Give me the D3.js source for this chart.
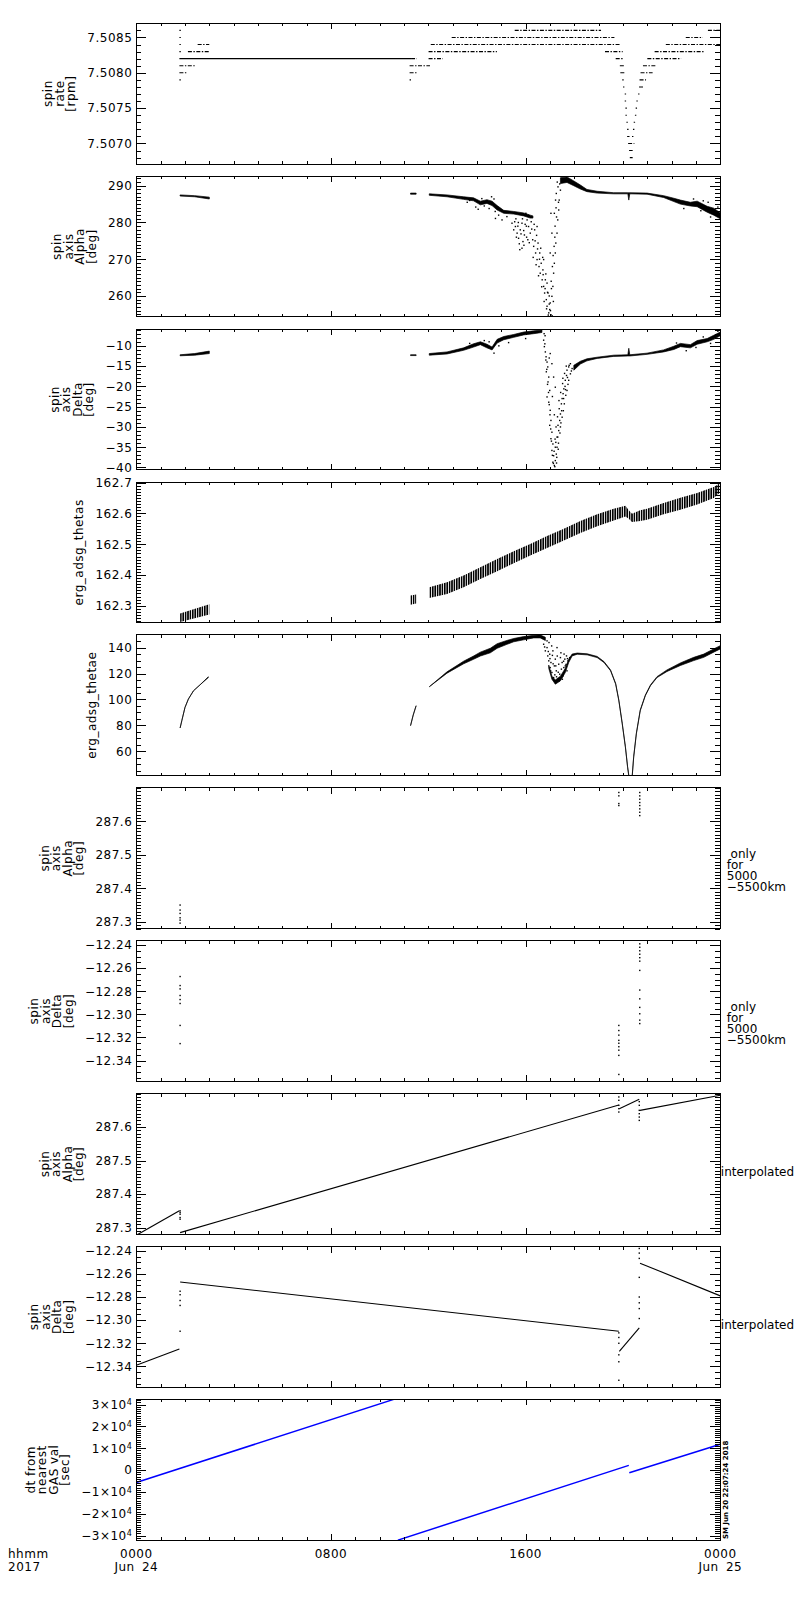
<!DOCTYPE html>
<html>
<head>
<meta charset="utf-8">
<script src="https://cdn.jsdelivr.net/npm/d3@7"></script>
<style>
  body { margin: 0; background: #fff; }
  text { font-family: "DejaVu Sans", sans-serif; fill: #000; }
</style>
</head>
<body>
<svg id="chart" width="800" height="1600"></svg>
<script>
// ---- axis texts and ranges ----
const panelTitles = [
  ["spin", "rate", "[rpm]"],
  ["spin", "axis", "Alpha", "[deg]"],
  ["spin", "axis", "Delta", "[deg]"],
  ["erg_adsg_thetas"],
  ["erg_adsg_thetae"],
  ["spin", "axis", "Alpha", "[deg]"],
  ["spin", "axis", "Delta", "[deg]"],
  ["spin", "axis", "Alpha", "[deg]"],
  ["spin", "axis", "Delta", "[deg]"],
  ["dt from", "nearest", "GAS val", "[sec]"]
];
const panelNotes = [[], [], [], [], [],
  [" only", "for", "5000", "−5500km"],
  [" only", "for", "5000", "−5500km"],
  ["interpolated"], ["interpolated"], []];
const yDomains = [
  [7.50671, 7.50870], [254.3, 292.6], [-40.57, -5.87], [162.245, 162.702], [41.3, 149.8],
  [287.28, 287.70], [-12.358, -12.2363], [287.28, 287.70], [-12.358, -12.2363], [-32100, 32400]
];
const yMajor = [
  [7.5070, 7.5075, 7.5080, 7.5085],
  [260, 270, 280, 290],
  [-40, -35, -30, -25, -20, -15, -10],
  [162.3, 162.4, 162.5, 162.6, 162.7],
  [60, 80, 100, 120, 140],
  [287.3, 287.4, 287.5, 287.6],
  [-12.34, -12.32, -12.30, -12.28, -12.26, -12.24],
  [287.3, 287.4, 287.5, 287.6],
  [-12.34, -12.32, -12.30, -12.28, -12.26, -12.24],
  [-30000, -20000, -10000, 0, 10000, 20000, 30000]
];
const yMinorStep = [0.0001, 1, 1, 0.01, 5, 0.01, 0.005, 0.01, 0.005, 1000];
const xLabelHours = [0, 8, 16, 24];
const xTimeLabels = ["0000", "0800", "1600", "0000"];
const xDateLabels = ["Jun 24", "", "", "Jun 25"];
const stamp = "SM Jun 20 22:07:24 2018";

// ---- panel 1: spin rate levels [value, startHour, endHour] ----
const rateLevels = [
  [7.5086, 1.8, 1.8], [7.5086, 15.58, 19.07], [7.5086, 23.52, 24.0],
  [7.5085, 1.8, 1.8], [7.5085, 12.99, 19.62], [7.5085, 22.61, 23.25],
  [7.5084, 1.8, 1.8], [7.5084, 2.55, 2.97], [7.5084, 12.13, 19.83], [7.5084, 21.79, 24.0],
  [7.5083, 1.8, 1.8], [7.5083, 2.15, 3.01], [7.5083, 12.04, 14.79], [7.5083, 19.29, 19.96], [7.5083, 21.33, 23.29],
  [7.5082, 1.8, 11.26], [7.5082, 11.32, 11.50], [7.5082, 12.04, 12.57], [7.5082, 19.73, 19.96], [7.5082, 21.03, 22.36],
  [7.5081, 1.8, 2.4], [7.5081, 11.26, 12.04], [7.5081, 19.90, 20.03], [7.5081, 20.85, 21.33],
  [7.5080, 1.8, 2.03], [7.5080, 11.26, 11.54], [7.5080, 19.92, 20.06], [7.5080, 20.75, 21.19],
  [7.5079, 1.8, 1.8], [7.5079, 11.26, 11.26], [7.5079, 20.0, 20.0], [7.5079, 20.71, 20.92],
  [7.5078, 20.03, 20.03], [7.5078, 20.69, 20.80],
  [7.5077, 20.10, 20.10], [7.5077, 20.65, 20.65],
  [7.5076, 20.10, 20.10], [7.5076, 20.58, 20.58],
  [7.5075, 20.13, 20.13], [7.5075, 20.55, 20.55],
  [7.5074, 20.13, 20.13], [7.5074, 20.52, 20.52],
  [7.5073, 20.17, 20.17], [7.5073, 20.47, 20.47],
  [7.5072, 20.20, 20.20], [7.5072, 20.44, 20.44],
  [7.5071, 20.20, 20.24], [7.5071, 20.40, 20.40],
  [7.5070, 20.24, 20.44],
  [7.5069, 20.28, 20.37],
  [7.5068, 20.31, 20.37]
];

// ---- panel 2: spin axis alpha, bands [hour, low, high] and scattered points ----
const alphaBand = [
  [[1.8, 287.2, 287.5], [2.4, 287.0, 287.3], [3.0, 286.4, 286.9]],
  [[11.27, 287.7, 288.0], [11.5, 287.7, 288.0]],
  [[12.04, 287.4, 287.8], [12.77, 287.0, 287.5], [13.45, 286.3, 287.0], [13.86, 285.9, 286.7], [14.14, 284.8, 285.8],
   [14.41, 285.2, 286.2], [14.62, 284.6, 285.8], [14.83, 283.4, 284.6], [15.10, 282.5, 283.3], [15.51, 282.3, 283.0],
   [15.92, 281.8, 282.6], [16.19, 281.2, 282.0], [16.30, 281.2, 281.8]],
  [[17.43, 290.6, 292.2], [17.70, 290.9, 292.4], [17.98, 290.0, 291.3], [18.25, 289.1, 290.2], [18.52, 288.4, 289.0],
   [18.94, 288.0, 288.5], [19.62, 287.8, 288.1], [20.20, 287.8, 288.1], [20.24, 286.1, 288.1], [20.28, 287.8, 288.1],
   [20.99, 287.7, 288.0], [21.67, 286.8, 287.3], [22.09, 285.7, 286.6], [22.36, 285.0, 286.1], [22.77, 284.5, 285.5],
   [23.05, 284.3, 285.8], [23.46, 282.8, 284.4], [23.73, 282.0, 283.9], [24.0, 281.0, 282.6]]
];
const alphaCloud = [
  [13.60, 285.5], [13.70, 286.0], [13.95, 284.2], [14.05, 283.6], [14.20, 286.5], [14.30, 284.5], [14.50, 283.8],
  [14.60, 287.0], [14.70, 286.4], [14.75, 283.0], [22.50, 283.8], [22.90, 286.4], [23.20, 283.2], [23.30, 285.9],
  [23.50, 285.5], [23.60, 281.5], [23.90, 284.2],
  [14.76, 281.1], [14.89, 282.0], [15.03, 280.7], [15.23, 281.6], [15.44, 279.8], [15.51, 278.0], [15.58, 278.9],
  [15.65, 277.1], [15.71, 275.7], [15.78, 278.0], [15.85, 273.0], [15.89, 274.8], [15.95, 276.6], [16.01, 282.5],
  [16.06, 280.7], [16.12, 278.9], [16.19, 277.1], [16.23, 280.2], [16.29, 275.3], [16.33, 273.5], [16.37, 278.0],
  [16.41, 271.7], [16.47, 269.9], [16.51, 274.4], [16.55, 268.0], [16.58, 271.7], [16.60, 266.2], [16.64, 268.9],
  [16.68, 264.4], [16.71, 267.1], [16.74, 262.6], [16.78, 260.8], [16.81, 264.4], [16.85, 259.0], [16.88, 257.2],
  [16.92, 260.8], [16.95, 255.4], [16.99, 256.3], [17.01, 258.1], [17.04, 254.9], [17.08, 259.9], [17.12, 262.6],
  [17.15, 266.2], [17.18, 268.9], [17.22, 271.7], [17.24, 274.4], [17.29, 277.1], [17.32, 280.7], [17.36, 283.4],
  [17.38, 286.1], [17.43, 288.8], [17.18, 282.5], [17.23, 286.1], [17.08, 277.1], [17.01, 271.7], [17.10, 268.0],
  [17.26, 287.9], [17.33, 289.7], [17.04, 282.5], [16.74, 269.9], [16.88, 263.5], [16.47, 278.9], [16.09, 275.3],
  [15.76, 272.6], [15.85, 279.8], [16.20, 281.5], [16.35, 279.5], [16.45, 276.5], [16.62, 273.0], [16.70, 270.5],
  [16.83, 266.0], [16.90, 261.0], [16.97, 257.8], [17.06, 262.0], [17.13, 271.0], [17.20, 276.0], [17.27, 281.5],
  [15.60, 281.0], [15.70, 280.0], [15.92, 277.8], [16.03, 279.0],
  [15.55, 280.2], [15.62, 276.0], [15.68, 279.0], [15.74, 274.2], [15.81, 276.9], [15.87, 281.0], [15.93, 273.8],
  [15.98, 279.5], [16.04, 276.0], [16.10, 282.0], [16.15, 274.5], [16.25, 278.2], [16.31, 270.5], [16.39, 275.0],
  [16.43, 268.5], [16.49, 272.8], [16.53, 265.5], [16.57, 270.0], [16.66, 262.5], [16.72, 265.8], [16.76, 258.5],
  [16.80, 262.0], [16.86, 256.5], [16.93, 254.8], [16.97, 260.0], [17.02, 256.0], [17.05, 264.0], [17.09, 254.6],
  [17.14, 258.5], [17.17, 273.5], [17.21, 279.0], [17.25, 284.0], [17.30, 291.0], [17.35, 285.5], [17.40, 290.5]
];

// ---- panel 3: spin axis delta ----
const deltaBand = [
  [[1.8, -12.45, -12.2], [2.4, -12.3, -11.9], [3.0, -11.9, -11.3]],
  [[11.27, -12.4, -12.2], [11.5, -12.4, -12.2]],
  [[12.04, -12.3, -11.9], [12.77, -12.0, -11.5], [13.45, -11.1, -10.5], [13.86, -10.3, -9.5], [14.14, -9.7, -9.0],
   [14.41, -10.5, -9.6], [14.62, -11.0, -10.3], [14.83, -9.3, -8.4], [15.10, -8.5, -7.7], [15.51, -7.9, -7.2],
   [15.92, -7.3, -6.6], [16.33, -7.0, -6.3], [16.67, -6.7, -6.1]],
  [[17.98, -16.0, -14.8], [18.25, -14.5, -13.8], [18.52, -13.7, -13.2], [18.94, -13.1, -12.8], [19.62, -12.6, -12.3],
   [20.20, -12.5, -12.2], [20.24, -12.5, -10.6], [20.28, -12.5, -12.2], [20.99, -12.1, -11.8], [21.67, -11.5, -11.0],
   [22.09, -10.9, -10.1], [22.36, -10.2, -9.4], [22.77, -10.5, -9.7], [23.05, -9.6, -8.7], [23.46, -9.0, -8.2],
   [23.73, -8.4, -7.4], [24.0, -7.5, -6.6]]
];
const deltaCloud = [
  [13.70, -9.4], [14.30, -8.7], [14.50, -9.0], [14.70, -11.8], [14.90, -10.0], [15.30, -9.2], [16.00, -8.2],
  [16.20, -5.9], [22.20, -9.3], [22.60, -11.2], [23.00, -10.4], [23.30, -7.8], [23.60, -9.4], [23.90, -6.4],
  [16.74, -8.6], [16.77, -10.2], [16.81, -11.5], [16.84, -12.7], [16.88, -14.0], [16.91, -15.2], [16.85, -16.4],
  [16.95, -17.7], [16.92, -18.9], [16.99, -21.0], [16.88, -22.6], [16.95, -23.9], [17.01, -25.9], [17.04, -28.4],
  [16.99, -29.6], [17.08, -31.3], [17.04, -32.9], [17.12, -34.2], [17.08, -35.8], [17.15, -37.1], [17.12, -38.7],
  [17.18, -39.5], [17.22, -38.3], [17.26, -36.7], [17.29, -35.0], [17.24, -33.8], [17.32, -32.5], [17.36, -30.9],
  [17.33, -29.6], [17.40, -28.4], [17.43, -26.8], [17.38, -25.5], [17.47, -24.3], [17.50, -23.0], [17.54, -21.8],
  [17.57, -20.6], [17.52, -19.3], [17.63, -18.5], [17.68, -17.3], [17.70, -16.0], [17.77, -15.2], [17.84, -14.4],
  [17.59, -24.3], [17.65, -22.2], [17.70, -21.0], [17.50, -27.6], [17.43, -30.0], [17.29, -32.5], [17.22, -35.0],
  [17.08, -14.4], [17.15, -17.7], [17.22, -20.2], [17.01, -11.9], [17.77, -18.5], [17.84, -16.9], [17.91, -15.6],
  [17.20, -39.8], [17.27, -38.9], [17.35, -34.0], [17.45, -29.0], [17.55, -26.0], [17.62, -20.0], [17.74, -19.5],
  [16.80, -7.5], [16.97, -13.0], [17.10, -22.5], [17.18, -27.0],
  [16.76, -7.0], [16.79, -9.5], [16.83, -13.5], [16.87, -15.8], [16.90, -19.5], [16.94, -21.5], [16.97, -24.5],
  [17.00, -27.0], [17.03, -30.5], [17.06, -33.5], [17.10, -37.0], [17.14, -39.0], [17.17, -36.0], [17.21, -33.0],
  [17.25, -30.0], [17.28, -37.5], [17.31, -27.5], [17.34, -35.5], [17.37, -23.5], [17.41, -31.5], [17.44, -21.5],
  [17.48, -26.0], [17.53, -18.0], [17.56, -23.0], [17.60, -16.8], [17.64, -20.8], [17.67, -15.0], [17.72, -17.8],
  [17.79, -14.8], [17.88, -16.2]
];

// ---- panel 4: erg_adsg_thetas bands ----
const thetasBand = [
  [[1.8, 162.247, 162.275], [3.0, 162.272, 162.305]],
  [[11.27, 162.303, 162.333], [11.5, 162.307, 162.337]],
  [[12.04, 162.325, 162.360], [12.77, 162.338, 162.376], [13.45, 162.360, 162.398], [14.14, 162.387, 162.425],
   [14.83, 162.412, 162.452], [15.51, 162.438, 162.477], [16.19, 162.463, 162.501], [16.88, 162.488, 162.527],
   [17.57, 162.512, 162.550], [18.25, 162.536, 162.575], [18.94, 162.558, 162.597], [19.62, 162.577, 162.615],
   [20.10, 162.590, 162.625], [20.24, 162.583, 162.610], [20.37, 162.572, 162.599], [20.71, 162.575, 162.610],
   [20.99, 162.579, 162.615], [21.67, 162.597, 162.634], [22.36, 162.612, 162.651], [23.05, 162.629, 162.666],
   [23.73, 162.650, 162.686], [24.0, 162.669, 162.699]]
];

// ---- panel 5: erg_adsg_thetae ----
const thetaeBand = [
  [[1.8, 78, 78], [1.87, 83.6, 83.6], [2.0, 93.8, 93.8], [2.14, 100.3, 100.3], [2.35, 106.7, 106.7],
   [2.62, 111.3, 111.3], [2.96, 116.9, 117.5]],
  [[11.27, 79.8, 79.8], [11.38, 88, 88], [11.5, 95.2, 95.2]],
  [[12.04, 109.8, 109.8], [12.77, 120.3, 121.3], [13.45, 127.5, 129.5], [13.86, 131, 133.5], [14.14, 133.5, 136.5],
   [14.55, 136, 139.5], [14.83, 139.5, 143], [15.23, 142.5, 145.5], [15.51, 144.5, 147], [15.92, 146, 148.5],
   [16.33, 147.5, 149.5], [16.60, 147.5, 149.8], [16.81, 145.5, 148]],
  [[16.95, 124, 126.5], [17.08, 115.6, 118], [17.22, 111.8, 115], [17.43, 114.4, 118], [17.63, 120.8, 124],
   [17.77, 128.5, 131], [17.91, 133.6, 135], [18.12, 134.9, 135.8], [18.53, 134.4, 135.2], [18.94, 132.3, 133.2],
   [19.22, 128.5, 129.2], [19.49, 122.1, 122.8], [19.70, 111.8, 112.4], [19.83, 99, 99.6], [19.97, 81.1, 81.7],
   [20.10, 63.1, 63.7], [20.19, 47.7, 48.3], [20.26, 38, 39], [20.37, 38, 39], [20.44, 55.4, 56],
   [20.55, 73.4, 74], [20.71, 91.3, 91.9], [20.92, 102.9, 103.5], [21.13, 110.6, 111.2], [21.40, 116.9, 117.6],
   [21.81, 121.6, 122.8], [22.36, 126.2, 128.2], [22.91, 130, 132.5], [23.32, 132.5, 135], [23.73, 136.5, 139],
   [24.0, 139, 141.5]]
];
const thetaeCloud = [
  [16.74, 142.6], [16.81, 137.5], [16.88, 140], [16.91, 133.6], [16.95, 129.8], [16.99, 134.9], [17.01, 124.6],
  [17.04, 128.5], [17.08, 120.8], [17.12, 137.5], [17.15, 116.9], [17.18, 125.9], [17.22, 131.1], [17.26, 122.1],
  [17.29, 140], [17.32, 115.6], [17.36, 127.2], [17.40, 119.5], [17.43, 132.3], [17.47, 123.4], [17.50, 128.5],
  [17.54, 118.2], [17.57, 124.6], [17.61, 131.1], [17.63, 125.9], [17.68, 133.6], [17.70, 122.1], [17.74, 129.8],
  [17.81, 132.3], [16.88, 145.2], [16.96, 143.9], [17.07, 141.3], [17.24, 125.9], [17.38, 114.4], [17.51, 115.6],
  [17.00, 131.5], [17.10, 134.0], [17.20, 119.0], [17.30, 133.5], [17.45, 136.0], [17.58, 135.0],
  [16.78, 140.5], [16.93, 137.0], [17.03, 122.0], [17.13, 127.5], [17.27, 117.5], [17.34, 121.0], [17.48, 117.0],
  [17.56, 129.5], [17.66, 127.0], [17.72, 131.5]
];

// ---- panels 6, 7: only for 5000-5500km ----
const alphaOnly = [
  [1.8, 287.35], [1.8, 287.335], [1.8, 287.325], [1.8, 287.312], [1.8, 287.305], [1.8, 287.296],
  [19.83, 287.686], [19.83, 287.676], [19.83, 287.653], [19.83, 287.647],
  [20.69, 287.686], [20.69, 287.676], [20.69, 287.666], [20.69, 287.656], [20.69, 287.647], [20.69, 287.637],
  [20.69, 287.627], [20.69, 287.617]
];
const deltaOnly = [
  [1.8, -12.2673], [1.8, -12.2751], [1.8, -12.278], [1.8, -12.2837], [1.8, -12.2872], [1.8, -12.2906],
  [1.8, -12.3096], [1.8, -12.3253],
  [20.69, -12.239], [20.69, -12.242], [20.69, -12.245], [20.69, -12.248], [20.69, -12.251], [20.69, -12.254],
  [20.69, -12.262], [20.69, -12.279], [20.69, -12.2866], [20.69, -12.294], [20.69, -12.2995], [20.69, -12.305],
  [20.69, -12.308],
  [19.83, -12.3096], [19.83, -12.314], [19.83, -12.318], [19.83, -12.3225], [19.83, -12.325], [19.83, -12.328],
  [19.83, -12.331], [19.83, -12.3355], [19.83, -12.352]
];

// ---- panels 8, 9: interpolated ----
const alphaInterpLines = [
  [[0, 287.277], [1.77, 287.35]],
  [[1.8, 287.285], [19.83, 287.666]],
  [[19.85, 287.655], [20.67, 287.683]],
  [[20.7, 287.65], [24, 287.695]]
];
const alphaInterpDots = [
  [1.8, 287.35], [1.8, 287.345], [1.8, 287.34], [1.8, 287.33], [1.8, 287.325],
  [19.83, 287.69], [19.83, 287.68], [19.83, 287.665], [19.83, 287.655], [19.83, 287.645],
  [20.67, 287.676], [20.67, 287.665], [20.67, 287.65], [20.67, 287.64], [20.67, 287.63], [20.67, 287.62]
];
const deltaInterpLines = [
  [[0, -12.339], [1.77, -12.325]],
  [[1.8, -12.267], [19.83, -12.3096]],
  [[19.85, -12.327], [20.67, -12.3067]],
  [[20.7, -12.2507], [24, -12.279]]
];
const deltaInterpDots = [
  [1.8, -12.275], [1.8, -12.278], [1.8, -12.283], [1.8, -12.2873], [1.8, -12.3096],
  [19.83, -12.311], [19.83, -12.315], [19.83, -12.32], [19.83, -12.33], [19.83, -12.336], [19.83, -12.352],
  [20.67, -12.238], [20.67, -12.242], [20.67, -12.2466], [20.67, -12.263], [20.67, -12.28], [20.67, -12.285],
  [20.67, -12.29], [20.67, -12.2986]
];

// ---- panel 10: dt from nearest GAS value [sec] ----
const dtLines = [
  [[0, -5700], [10.58, 32400]],
  [[10.75, -32100], [20.24, 2170]],
  [[20.26, -1200], [24, 11840]]
];

// ================= drawing =================
const svg = d3.select("#chart");
svg.append("rect").attr("width", 800).attr("height", 1600).attr("fill", "#fff");

// vertical hatch that imitates the saw-tooth texture of the thetas band
const pat = svg.append("defs").append("pattern").attr("id", "teeth")
  .attr("patternUnits", "userSpaceOnUse").attr("width", 2.4).attr("height", 10);
pat.append("rect").attr("width", 1.6).attr("height", 10).attr("fill", "#000");

const plotLeft = 136.3, plotRight = 720.3, firstTop = 23.3, pitch = 152.9, plotH = 140.7;
const x = d3.scaleLinear().domain([0, 24]).range([plotLeft, plotRight]);
const hourTicks = d3.range(0, 25);

function minorTicks([lo, hi], step) {
  const out = [];
  for (let k = Math.ceil(lo / step - 1e-9); k * step <= hi + 1e-9; k++) out.push(+(k * step).toPrecision(12));
  return out;
}

function drawBands(layer, y, segments, fill) {
  const area = d3.area().x(d => x(d[0])).y0(d => y(d[1])).y1(d => y(d[2]));
  layer.selectAll(null).data(segments).join("path")
    .attr("d", area).attr("fill", fill || "#000")
    .attr("stroke", fill ? "none" : "#000")
    .attr("stroke-width", 0.7).attr("stroke-linejoin", "round");
}
function drawDots(layer, y, pts) {
  layer.selectAll(null).data(pts).join("rect")
    .attr("x", d => x(d[0]) - 0.7).attr("y", d => y(d[1]) - 0.7)
    .attr("width", 1.4).attr("height", 1.4).attr("fill", "#000");
}
function drawLines(layer, y, lines, color, w) {
  const line = d3.line().x(d => x(d[0])).y(d => y(d[1]));
  layer.selectAll(null).data(lines).join("path")
    .attr("d", line).attr("fill", "none").attr("stroke", color).attr("stroke-width", w);
}
function drawLevels(layer, y, levels) {
  // the one level held across the data gap is drawn solid, the sampled ones dotted
  layer.selectAll(null).data(levels).join("line")
    .attr("x1", d => x(d[1]) - 0.7)
    .attr("x2", d => x(d[2]) + 0.7)
    .attr("y1", d => y(d[0])).attr("y2", d => y(d[0]))
    .attr("stroke", "#000").attr("stroke-width", 1.1)
    .attr("stroke-dasharray", d => (d[2] - d[1] > 8 ? null : "4 1.5 1.4 1.5"));
}

const drawers = [
  (l, y) => drawLevels(l, y, rateLevels),
  (l, y) => { drawBands(l, y, alphaBand); drawDots(l, y, alphaCloud); },
  (l, y) => { drawBands(l, y, deltaBand); drawDots(l, y, deltaCloud); },
  (l, y) => drawBands(l, y, thetasBand, "url(#teeth)"),
  (l, y) => { drawBands(l, y, thetaeBand); drawDots(l, y, thetaeCloud); },
  (l, y) => drawDots(l, y, alphaOnly),
  (l, y) => drawDots(l, y, deltaOnly),
  (l, y) => { drawLines(l, y, alphaInterpLines, "#000", 1.1); drawDots(l, y, alphaInterpDots); },
  (l, y) => { drawLines(l, y, deltaInterpLines, "#000", 1.1); drawDots(l, y, deltaInterpDots); },
  (l, y) => drawLines(l, y, dtLines, "#0000ff", 1.5)
];

const yFormats = [
  d3.format(".4f"), d3.format("d"), d3.format("d"), d3.format(".1f"), d3.format("d"),
  d3.format(".1f"), d3.format(".2f"), d3.format(".1f"), d3.format(".2f"), null
];

function styleAxis(sel) {
  sel.select(".domain").remove();
  sel.attr("font-family", "DejaVu Sans, sans-serif").attr("font-size", 12)
    .attr("shape-rendering", "crispEdges");
  sel.selectAll("text").attr("letter-spacing", 0.5);
}

panelTitles.forEach((title, i) => {
  const top = firstTop + i * pitch, bottom = top + plotH;
  const y = d3.scaleLinear().domain(yDomains[i]).range([bottom, top]);
  const g = svg.append("g");

  svg.append("clipPath").attr("id", "clip" + i).append("rect")
    .attr("x", plotLeft).attr("y", top).attr("width", plotRight - plotLeft).attr("height", plotH);
  const layer = g.append("g").attr("clip-path", `url(#clip${i})`);
  drawers[i](layer, y);

  g.append("rect").attr("x", plotLeft).attr("y", top)
    .attr("width", plotRight - plotLeft).attr("height", plotH)
    .attr("fill", "none").attr("stroke", "#000").attr("shape-rendering", "crispEdges");

  // y ticks, left and right, pointing inward
  const minor = minorTicks(yDomains[i], yMinorStep[i]);
  g.append("g").attr("transform", `translate(${plotLeft},0)`)
    .call(d3.axisLeft(y).tickValues(minor).tickSize(-5).tickSizeOuter(0).tickFormat("")).call(styleAxis);
  g.append("g").attr("transform", `translate(${plotRight},0)`)
    .call(d3.axisRight(y).tickValues(minor).tickSize(-5).tickSizeOuter(0).tickFormat("")).call(styleAxis);
  g.append("g").attr("transform", `translate(${plotRight},0)`)
    .call(d3.axisRight(y).tickValues(yMajor[i]).tickSize(-10).tickSizeOuter(0).tickFormat("")).call(styleAxis);
  const leftAxis = g.append("g").attr("transform", `translate(${plotLeft},0)`)
    .call(d3.axisLeft(y).tickValues(yMajor[i]).tickSize(-10).tickSizeOuter(0).tickPadding(4)
      .tickFormat(yFormats[i] || (() => "")))
    .call(styleAxis);

  if (!yFormats[i]) {
    leftAxis.selectAll(".tick text").each(function (d) {
      const t = d3.select(this);
      if (d === 0) { t.text("0"); return; }
      const m = d / 1e4;
      t.text((m < 0 ? "−" : "") + Math.abs(m) + "×10");
      t.append("tspan").attr("dy", "-0.45em").attr("font-size", 8).text("4");
    });
  }

  // x ticks, top and bottom, pointing inward
  [[d3.axisBottom, bottom], [d3.axisTop, top]].forEach(([axisFn, yy]) => {
    g.append("g").attr("transform", `translate(0,${yy})`)
      .call(axisFn(x).tickValues(hourTicks).tickSize(-3).tickSizeOuter(0).tickFormat("")).call(styleAxis);
    g.append("g").attr("transform", `translate(0,${yy})`)
      .call(axisFn(x).tickValues([8, 16]).tickSize(-6).tickSizeOuter(0).tickFormat("")).call(styleAxis);
  });

  // y title, rotated, lines stacked left to right
  let minX = Infinity;
  leftAxis.selectAll(".tick text").each(function () { minX = Math.min(minX, this.getBBox().x); });
  const rightEdge = plotLeft + minX - 9;
  const gap = 11.5;
  const cy = (top + bottom) / 2;
  const tg = g.append("g")
    .attr("transform", `translate(${rightEdge - 3 - (title.length - 1) * gap},${cy}) rotate(-90)`);
  title.forEach((s, k) => {
    tg.append("text").attr("x", 0).attr("y", k * gap).attr("text-anchor", "middle")
      .attr("font-size", 12).attr("letter-spacing", 0.5).attr("xml:space", "preserve").text(s);
  });

  // notes to the right of the panel
  const notes = panelNotes[i];
  if (notes.length) {
    const nx = plotRight + (notes.length > 1 ? 6.5 : 0.5);
    const ny = cy + 12 - (notes.length - 1) * 4;
    notes.forEach((s, k) => {
      g.append("text").attr("x", nx).attr("y", ny + k * 11)
        .attr("font-size", 12).attr("xml:space", "preserve").text(s);
    });
  }
});

// time axis labels under the last panel
const lastBottom = firstTop + 9 * pitch + plotH;
xLabelHours.forEach((h, k) => {
  svg.append("text").attr("x", x(h)).attr("y", lastBottom + 18).attr("text-anchor", "middle")
    .attr("font-size", 12).attr("letter-spacing", 0.5).text(xTimeLabels[k]);
  if (xDateLabels[k]) {
    svg.append("text").attr("x", x(h)).attr("y", lastBottom + 30.5).attr("text-anchor", "middle")
      .attr("font-size", 12).attr("letter-spacing", 0.5).attr("word-spacing", 3).text(xDateLabels[k]);
  }
});
svg.append("text").attr("x", 8).attr("y", lastBottom + 18).attr("font-size", 12).attr("letter-spacing", 0.5).text("hhmm");
svg.append("text").attr("x", 8).attr("y", lastBottom + 30.5).attr("font-size", 12).attr("letter-spacing", 0.5).text("2017");

// creation stamp along the right side of the last panel
svg.append("text")
  .attr("transform", `translate(${plotRight + 8},${lastBottom - 1}) rotate(-90)`)
  .attr("font-size", 7).attr("font-weight", "bold").text(stamp);
</script>
</body>
</html>
